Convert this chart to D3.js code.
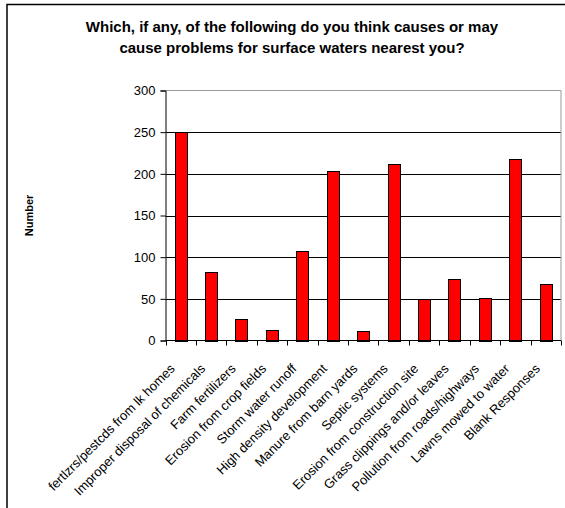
<!DOCTYPE html>
<html>
<head>
<meta charset="utf-8">
<script src="https://cdn.jsdelivr.net/npm/d3@7"></script>
<style>
    body { margin: 0; background: #fff; }
    svg { display: block; font-family: Arial, "Liberation Sans", sans-serif; }
</style>
</head>
<body>
<div id="chart"></div>
<script>
// survey answers, counts
const categories = [
    "fertlzrs/pestcds from lk homes",
    "Improper disposal of chemicals",
    "Farm fertilizers",
    "Erosion from crop fields",
    "Storm water runoff",
    "High density development",
    "Manure from barn yards",
    "Septic systems",
    "Erosion from construction site",
    "Grass clippings and/or leaves",
    "Pollution from roads/highways",
    "Lawns mowed to water",
    "Blank Responses"
]
const counts = [250, 82, 26, 13, 107, 203, 12, 212, 50, 74, 51, 218, 68]
const yTicks = [0, 50, 100, 150, 200, 250, 300]
const titleLines = [
    "Which, if any, of the following do you think causes or may",
    "cause problems for surface waters nearest you?"
]

const width = 565
const height = 508
const margin = { top: 90.5, right: 4, bottom: 167.5, left: 165.5 }

const svg = d3.select("#chart")
    .append("svg")
    .attr("width", width)
    .attr("height", height)

// outer chart border (cut off on the right and bottom like the original)
svg.append("path")
    .attr("d", `M7,${height + 5} V4.5 H${width + 5}`)
    .attr("fill", "none")
    .attr("stroke", "#000")
    .attr("stroke-width", 1.5)

svg.append("text")
    .attr("y", 32)
    .attr("text-anchor", "middle")
    .style("font-size", "15px")
    .style("font-weight", "bold")
    .selectAll("tspan")
    .data(titleLines)
    .join("tspan")
    .attr("x", 292)
    .attr("dy", (d, i) => i === 0 ? 0 : 20.5)
    .text(d => d)

const x = d3.scaleBand()
    .domain(categories)
    .range([margin.left, width - margin.right])
    .padding(0)

const y = d3.scaleLinear()
    .domain([0, 300])
    .range([height - margin.bottom, margin.top])

const barW = x.bandwidth() * 0.4

// gridlines
svg.append("g")
    .selectAll("line")
    .data(yTicks.filter(d => d > 0 && d < 300))
    .join("line")
    .attr("x1", margin.left)
    .attr("x2", width - margin.right)
    .attr("y1", d => Math.round(y(d)) + 0.5)
    .attr("y2", d => Math.round(y(d)) + 0.5)
    .attr("stroke", "#000")
    .attr("stroke-width", 1)

// plot frame top + right (gray)
svg.append("path")
    .attr("d", `M${margin.left},${y(300)} H${width - margin.right} V${y(0)}`)
    .attr("fill", "none")
    .attr("stroke", "#999")
    .attr("stroke-width", 1)

// bars
svg.append("g")
    .selectAll("rect")
    .data(counts)
    .join("rect")
    .attr("x", (d, i) => Math.round(x(categories[i]) + x.bandwidth() / 2 - barW / 2) + 0.5)
    .attr("y", d => Math.round(y(d)) + 0.5)
    .attr("width", Math.round(barW))
    .attr("height", d => Math.round(y(0)) - Math.round(y(d)))
    .attr("fill", "#ff0000")
    .attr("stroke", "#000")
    .attr("stroke-width", 1)

// y axis
const yAxis = svg.append("g")
    .attr("transform", `translate(${margin.left},0)`)
    .call(d3.axisLeft(y).tickValues(yTicks).tickSize(5).tickPadding(5))
yAxis.select(".domain").attr("stroke", "#000")
yAxis.selectAll("text").style("font-size", "13px").attr("fill", "#000")

// x axis: ticks on category boundaries
const xAxis = svg.append("g")
    .attr("transform", `translate(0,${y(0)})`)
xAxis.append("line")
    .attr("x1", margin.left)
    .attr("x2", width - margin.right)
    .attr("stroke", "#000")
xAxis.selectAll(".tick")
    .data(categories.map(c => x(c)).concat([x(categories[categories.length - 1]) + x.bandwidth()]))
    .join("line")
    .attr("class", "tick")
    .attr("x1", d => Math.round(d) + 0.5)
    .attr("x2", d => Math.round(d) + 0.5)
    .attr("y1", 0)
    .attr("y2", 5)
    .attr("stroke", "#000")

xAxis.selectAll(".lbl")
    .data(categories)
    .join("text")
    .attr("class", "lbl")
    .attr("text-anchor", "end")
    .attr("transform", d => `translate(${x(d) + x.bandwidth() / 2 - 5},29) rotate(-45)`)
    .style("font-size", "13px")
    .text(d => d)

// y axis title
svg.append("text")
    .attr("transform", `translate(33,${(y(0) + y(300)) / 2}) rotate(-90)`)
    .attr("text-anchor", "middle")
    .style("font-size", "11px")
    .style("font-weight", "bold")
    .text("Number")
</script>
</body>
</html>
